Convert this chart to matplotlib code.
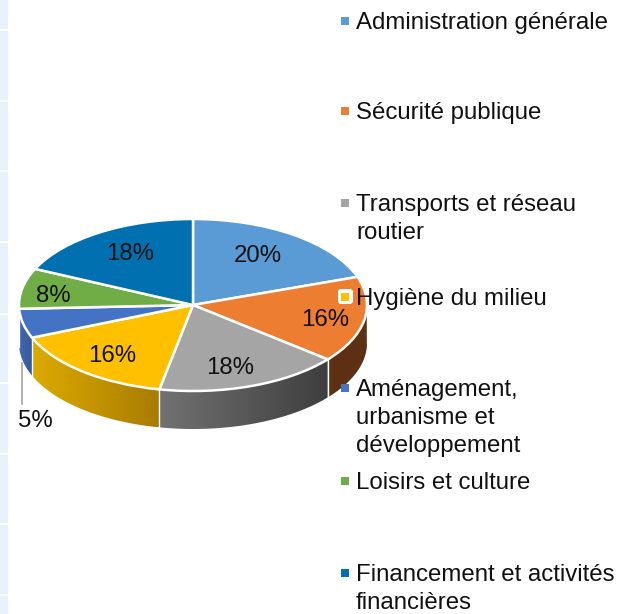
import numpy as np
import matplotlib
matplotlib.use("Agg")
import matplotlib.pyplot as plt
from matplotlib.patches import PathPatch, Rectangle, FancyBboxPatch
from matplotlib.path import Path

plt.rcParams['font.family'] = ['Liberation Sans', 'DejaVu Sans']

categories = ["Administration générale", "Sécurité publique", "Transports et réseau\nroutier",
              "Hygiène du milieu", "Aménagement,\nurbanisme et\ndéveloppement", "Loisirs et culture",
              "Financement et activités\nfinancières"]
labels = ["20%", "16%", "18%", "16%", "5%", "8%", "18%"]
# apparent shares of the ellipse as drawn (the source's 3D perspective distorts them)
shares = [19.7, 16.2, 17.2, 15.7, 5.5, 7.6, 18.1]
colors = ["#5B9BD5", "#ED7D31", "#A5A5A5", "#FFC000", "#4472C4", "#70AD47", "#0070B0"]
wall_left = ["#5B9BD5", "#5E3014", "#727272", "#DDAA00", "#3F68B4", "#70AD47", "#0070B0"]
wall_right = ["#5B9BD5", "#5E3014", "#3E3E3E", "#A87C00", "#38599A", "#70AD47", "#0070B0"]

W, H = 625, 614
fig = plt.figure(figsize=(W / 100, H / 100), dpi=100, facecolor="white")

# Overlay in pixel units
ov = fig.add_axes([0, 0, 1, 1], zorder=3)
ov.set_xlim(0, W); ov.set_ylim(H, 0); ov.axis("off"); ov.patch.set_alpha(0)

bg = fig.add_axes([0, 0, 1, 1], zorder=0)
bg.set_xlim(0, W); bg.set_ylim(H, 0); bg.axis("off")
for top, bot in [(0, 29), (31, 100), (102, 170), (172, 241), (243, 313), (315, 382),
                 (384, 453), (455, 523), (525, 594), (596, 614)]:
    bg.add_patch(Rectangle((0, top), 8, bot - top, fc="#E8F1FC", ec="none"))

# Pie axes: -1..1 maps to the ellipse extents
cx, cy, rx, ry, depth = 193, 305, 174, 86, 38
xl = (-1.2, 1.2)
yl = (-2.0, 1.2)
left = cx + xl[0] * rx
width = (xl[1] - xl[0]) * rx
bottom_px = cy - yl[0] * ry
height = (yl[1] - yl[0]) * ry
ax = fig.add_axes([left / W, 1 - bottom_px / H, width / W, height / H], zorder=1)
wedges, _ = ax.pie(shares, colors=colors, startangle=90, counterclock=False, radius=1,
                   wedgeprops=dict(edgecolor="white", linewidth=1.8))
ax.set_aspect("auto")
ax.set_xlim(*xl); ax.set_ylim(*yl)
for w in wedges:
    w.set_zorder(5)

d = depth / ry
hexrgb = matplotlib.colors.to_rgb
for w, cl, cr in zip(wedges, wall_left, wall_right):
    a1, a2 = w.theta1 % 360, w.theta2 % 360
    if a2 <= a1:
        a2 += 360
    lo, hi = max(a1, 180), min(a2, 360)
    if hi <= lo:
        continue
    t = np.radians(np.linspace(lo, hi, 80))
    x, y = np.cos(t), np.sin(t)
    verts = np.r_[np.c_[x, y], np.c_[x[::-1], y[::-1] - d], [[x[0], y[0]]]]
    codes = [Path.MOVETO] + [Path.LINETO] * (len(verts) - 2) + [Path.CLOSEPOLY]
    clip = PathPatch(Path(verts, codes), fc="none", ec="none", transform=ax.transData)
    ax.add_patch(clip)
    c0, c1 = np.array(hexrgb(cl)), np.array(hexrgb(cr))
    grad = np.linspace(0, 1, 128)[None, :, None] * (c1 - c0) + c0
    im = ax.imshow(grad, extent=(x.min(), x.max(), (y - d).min(), y.max()),
                   aspect="auto", zorder=2, interpolation="bilinear")
    im.set_clip_path(clip)
    ax.plot([x[-1], x[-1]], [y[-1], y[-1] - d], color="white", lw=1.0, zorder=3)
ax.set_xlim(*xl); ax.set_ylim(*yl)
ax.set_aspect("auto")

# Percent labels
label_xy = [(258, 256), (325, 320), (230, 368), (112, 356), (35, 421), (53, 296), (130, 254)]
for s, (x, y) in zip(labels, label_xy):
    ov.text(x, y, s, fontsize=17.3, ha="center", va="center", color="#111111")
ov.plot([22, 22], [363, 404], color="#A6A6A6", lw=1.2)

# Legend
legend_y = [21, 111, 203, 297, 388, 481, 573]
line_h = 28
for name, col, y in zip(categories, colors, legend_y):
    if col == "#FFC000":
        ov.add_patch(FancyBboxPatch((338, y - 8), 15, 15, boxstyle="round,pad=0,rounding_size=3",
                                    fc="white", ec="none"))
    ov.add_patch(Rectangle((341, y - 4), 8, 8, fc=col, ec="none"))
    for i, line in enumerate(name.split("\n")):
        ov.text(356, y + i * line_h + 2, line, fontsize=17.3, ha="left", va="center", color="#111111")

fig.savefig("out.png", dpi=100, facecolor="white")
